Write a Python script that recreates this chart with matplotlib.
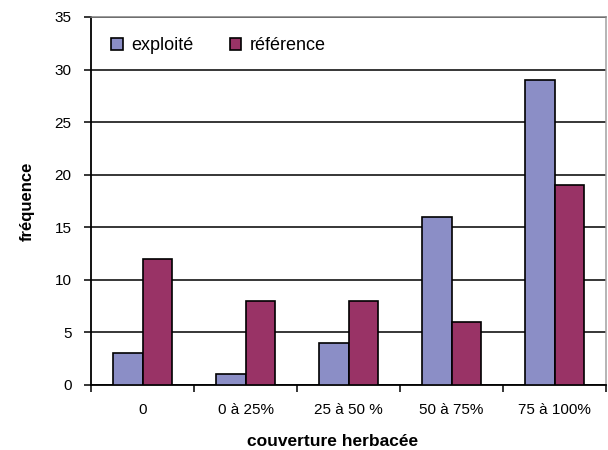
import numpy as np
import matplotlib
matplotlib.use('Agg')
import matplotlib.pyplot as plt

# data
categories = ['0', '0 à 25%', '25 à 50 %', '50 à 75%', '75 à 100%']
exploite = [3, 1, 4, 16, 29]
reference = [12, 8, 8, 6, 19]
yticks = [0, 5, 10, 15, 20, 25, 30, 35]

plt.rcParams['font.family'] = ['Liberation Sans', 'DejaVu Sans']

fig = plt.figure(figsize=(6.08, 4.5), dpi=100)
ax = fig.add_axes([91/608, 65/450, 515/608, 368/450])

x = np.arange(len(categories))
w = 0.287
ax.bar(x - w/2, exploite, w, color='#8b8ec6', edgecolor='black', linewidth=1.2,
       label='exploité', zorder=3)
ax.bar(x + w/2, reference, w, color='#993366', edgecolor='black', linewidth=1.2,
       label='référence', zorder=3)

ax.set_xlim(-0.5, len(categories) - 0.5)
ax.set_ylim(0, 35)
ax.set_yticks(yticks)
ax.yaxis.grid(True, color='black', linewidth=1.1, zorder=1)
ax.set_axisbelow(True)

# category labels centred, tick marks on the boundaries
ax.set_xticks(x)
ax.set_xticklabels(categories, fontsize=11)
ax.set_xticks(np.arange(len(categories) + 1) - 0.5, minor=True)
ax.tick_params(axis='x', which='major', length=0, pad=13)
ax.tick_params(axis='x', which='minor', length=5, width=1.1, direction='out')
ax.tick_params(axis='y', length=5, width=1.1, direction='out', pad=9, labelsize=11)

for s in ['left', 'bottom']:
    ax.spines[s].set_linewidth(1.3)
    ax.spines[s].set_color('black')
ax.spines['top'].set_color('#808080')
ax.spines['top'].set_linewidth(1.1)
ax.spines['right'].set_color('#a0a0a0')
ax.spines['right'].set_linewidth(1.1)

ax.set_ylabel('fréquence', fontsize=12, fontweight='bold', labelpad=14)
fig.text(333/608, 1 - 441/450, 'couverture herbacée', fontsize=12.5, fontweight='bold',
         ha='center', va='center')

ax.legend(loc='upper left', bbox_to_anchor=(0.008, 0.99), ncol=2, frameon=False,
          fontsize=13, handlelength=0.65, handleheight=0.65, handletextpad=0.45,
          columnspacing=2.0)

plt.savefig('out.png', dpi=100)
